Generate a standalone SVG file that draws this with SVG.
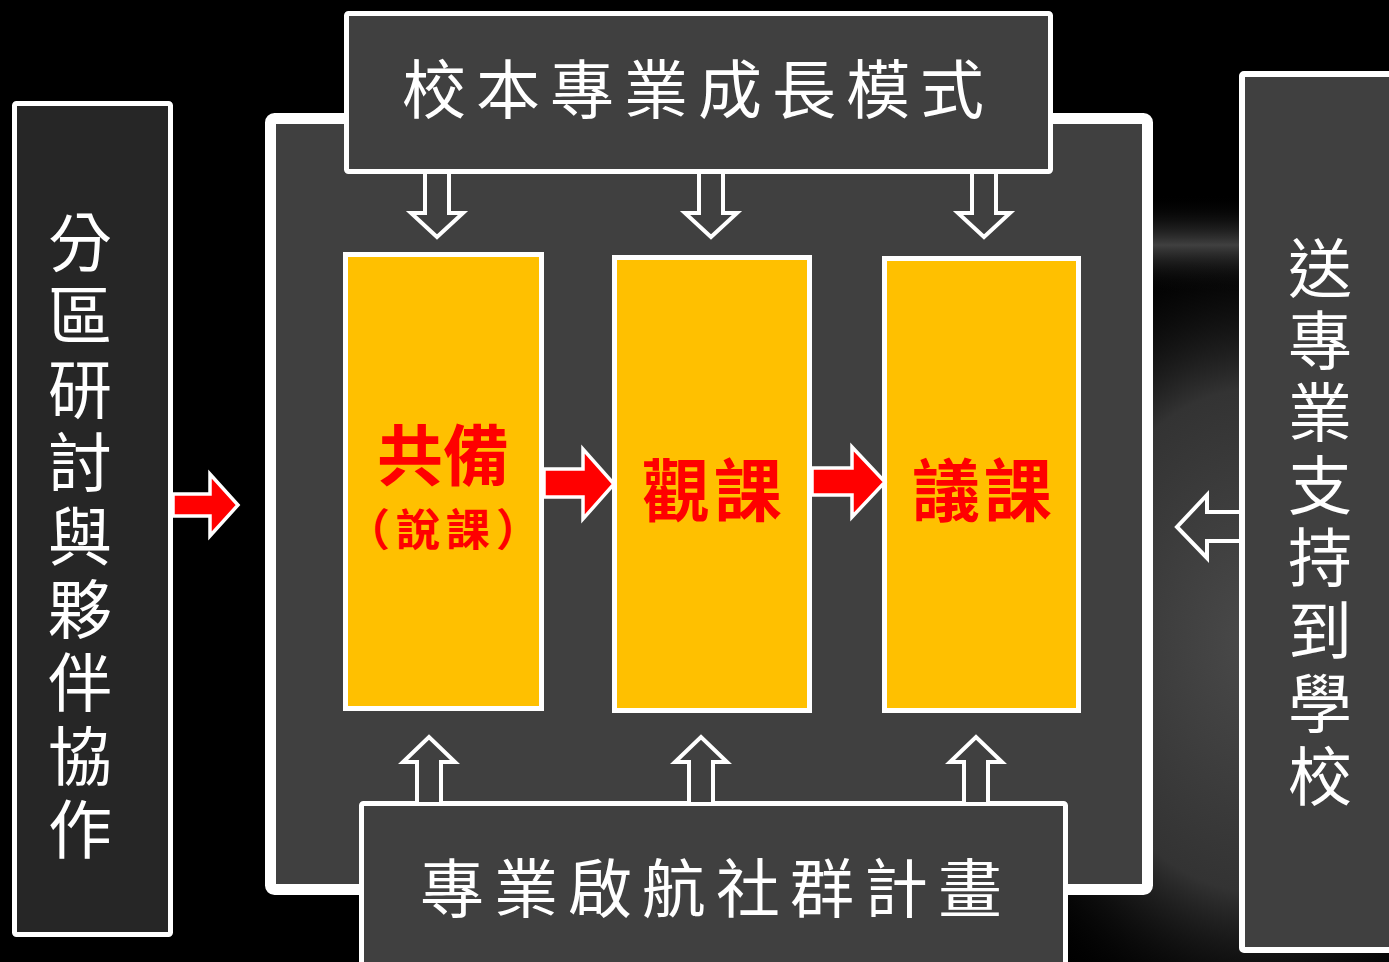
<svg xmlns="http://www.w3.org/2000/svg" width="1389" height="962" viewBox="0 0 1389 962">
<defs>
<radialGradient id="glow" cx="0.5" cy="0.5" r="0.5">
<stop offset="0" stop-color="#4a4a4a"/>
<stop offset="0.6" stop-color="#333333"/>
<stop offset="1" stop-color="#000000" stop-opacity="0"/>
</radialGradient>
<linearGradient id="band" x1="0" y1="0" x2="0" y2="1">
<stop offset="0" stop-color="#000000" stop-opacity="0"/>
<stop offset="0.5" stop-color="#505050" stop-opacity="0.8"/>
<stop offset="1" stop-color="#000000" stop-opacity="0"/>
</linearGradient>
<style>
.wbox{fill:#404040;stroke:#ffffff;}
.ybox{fill:#FFC000;stroke:#ffffff;stroke-width:5;}
.wt{fill:#ffffff;font-family:"Noto Sans CJK TC","Noto Sans CJK SC",sans-serif;font-size:64px;}
.rt{fill:#FF0000;font-family:"Noto Sans CJK TC","Noto Sans CJK SC",sans-serif;font-weight:bold;text-anchor:middle;}
.hollow{fill:#404040;stroke:#ffffff;stroke-width:4;stroke-linejoin:miter;}
.red{fill:#FF0000;stroke:#ffffff;stroke-width:3.5;stroke-linejoin:miter;}
</style>
</defs>
<rect x="0" y="0" width="1389" height="962" fill="#000000"/>
<ellipse cx="1260" cy="640" rx="320" ry="420" fill="url(#glow)"/>
<rect x="1150" y="195" width="239" height="100" fill="url(#band)"/>

<g id="outer">
<rect x="270.5" y="118.5" width="877" height="771" rx="4" class="wbox" stroke-width="11"/>
</g>

<g id="left-box">
<rect x="14.5" y="103.5" width="156" height="831" rx="2" fill="#262626" stroke="#ffffff" stroke-width="5"/>
<text class="wt" text-anchor="middle">
<tspan x="80" y="266">分</tspan><tspan x="80" y="339">區</tspan><tspan x="80" y="413">研</tspan><tspan x="80" y="486">討</tspan><tspan x="80" y="560">與</tspan><tspan x="80" y="633">夥</tspan><tspan x="80" y="706">伴</tspan><tspan x="80" y="780">協</tspan><tspan x="80" y="853">作</tspan>
</text>
</g>

<g id="right-box">
<rect x="1242" y="74" width="200" height="876" rx="2" class="wbox" stroke-width="6"/>
<text class="wt" text-anchor="middle">
<tspan x="1320" y="292">送</tspan><tspan x="1320" y="364">專</tspan><tspan x="1320" y="436">業</tspan><tspan x="1320" y="509">支</tspan><tspan x="1320" y="581">持</tspan><tspan x="1320" y="654">到</tspan><tspan x="1320" y="727">學</tspan><tspan x="1320" y="800">校</tspan>
</text>
</g>

<g id="top-box">
<rect x="346.5" y="13.5" width="704" height="158" rx="2" class="wbox" stroke-width="5"/>
<text class="wt" x="698" y="113" text-anchor="middle" letter-spacing="10">校本專業成長模式</text>
</g>

<g id="bottom-box">
<rect x="361.5" y="803.5" width="704" height="200" rx="2" class="wbox" stroke-width="5"/>
<text class="wt" x="716" y="912" text-anchor="middle" letter-spacing="10">專業啟航社群計畫</text>
</g>

<g id="box-gongbei">
<rect x="345.5" y="254.5" width="196" height="454" class="ybox"/>
<text class="rt" x="443" y="480" font-size="66">共備</text>
<text class="rt" x="446" y="546" font-size="44" letter-spacing="6">（說課）</text>
</g>

<g id="box-guanke">
<rect x="614.5" y="257.5" width="195" height="453" class="ybox"/>
<text class="rt" x="714" y="516" font-size="68" letter-spacing="4">觀課</text>
</g>

<g id="box-yike">
<rect x="884.5" y="258.5" width="194" height="452" class="ybox"/>
<text class="rt" x="984" y="516" font-size="68" letter-spacing="4">議課</text>
</g>

<g id="connectors">
<polygon class="hollow" points="425,172 449,172 449,213 463,213 437,237 411,213 425,213"/>
<polygon class="hollow" points="699,172 723,172 723,213 737,213 711,237 685,213 699,213"/>
<polygon class="hollow" points="972,172 996,172 996,213 1010,213 984,237 958,213 972,213"/>
<polygon class="hollow" points="417,804 441,804 441,762 455,762 429,737 403,762 417,762"/>
<polygon class="hollow" points="689,804 713,804 713,762 727,762 701,737 675,762 689,762"/>
<polygon class="hollow" points="964,804 988,804 988,762 1002,762 976,737 950,762 964,762"/>
<polygon points="1243,512 1207,512 1207,495 1177,527 1207,558 1207,541 1243,541" fill="none" stroke="#ffffff" stroke-width="4"/>
<polygon class="red" points="173,494 210,494 210,474 238,505 210,536 210,516 173,516"/>
<polygon class="red" points="544,469 583,469 583,449 614,484 583,519 583,497 544,497"/>
<polygon class="red" points="812,468 852,468 852,447 885,482 852,517 852,495 812,495"/>
</g>
</svg>
